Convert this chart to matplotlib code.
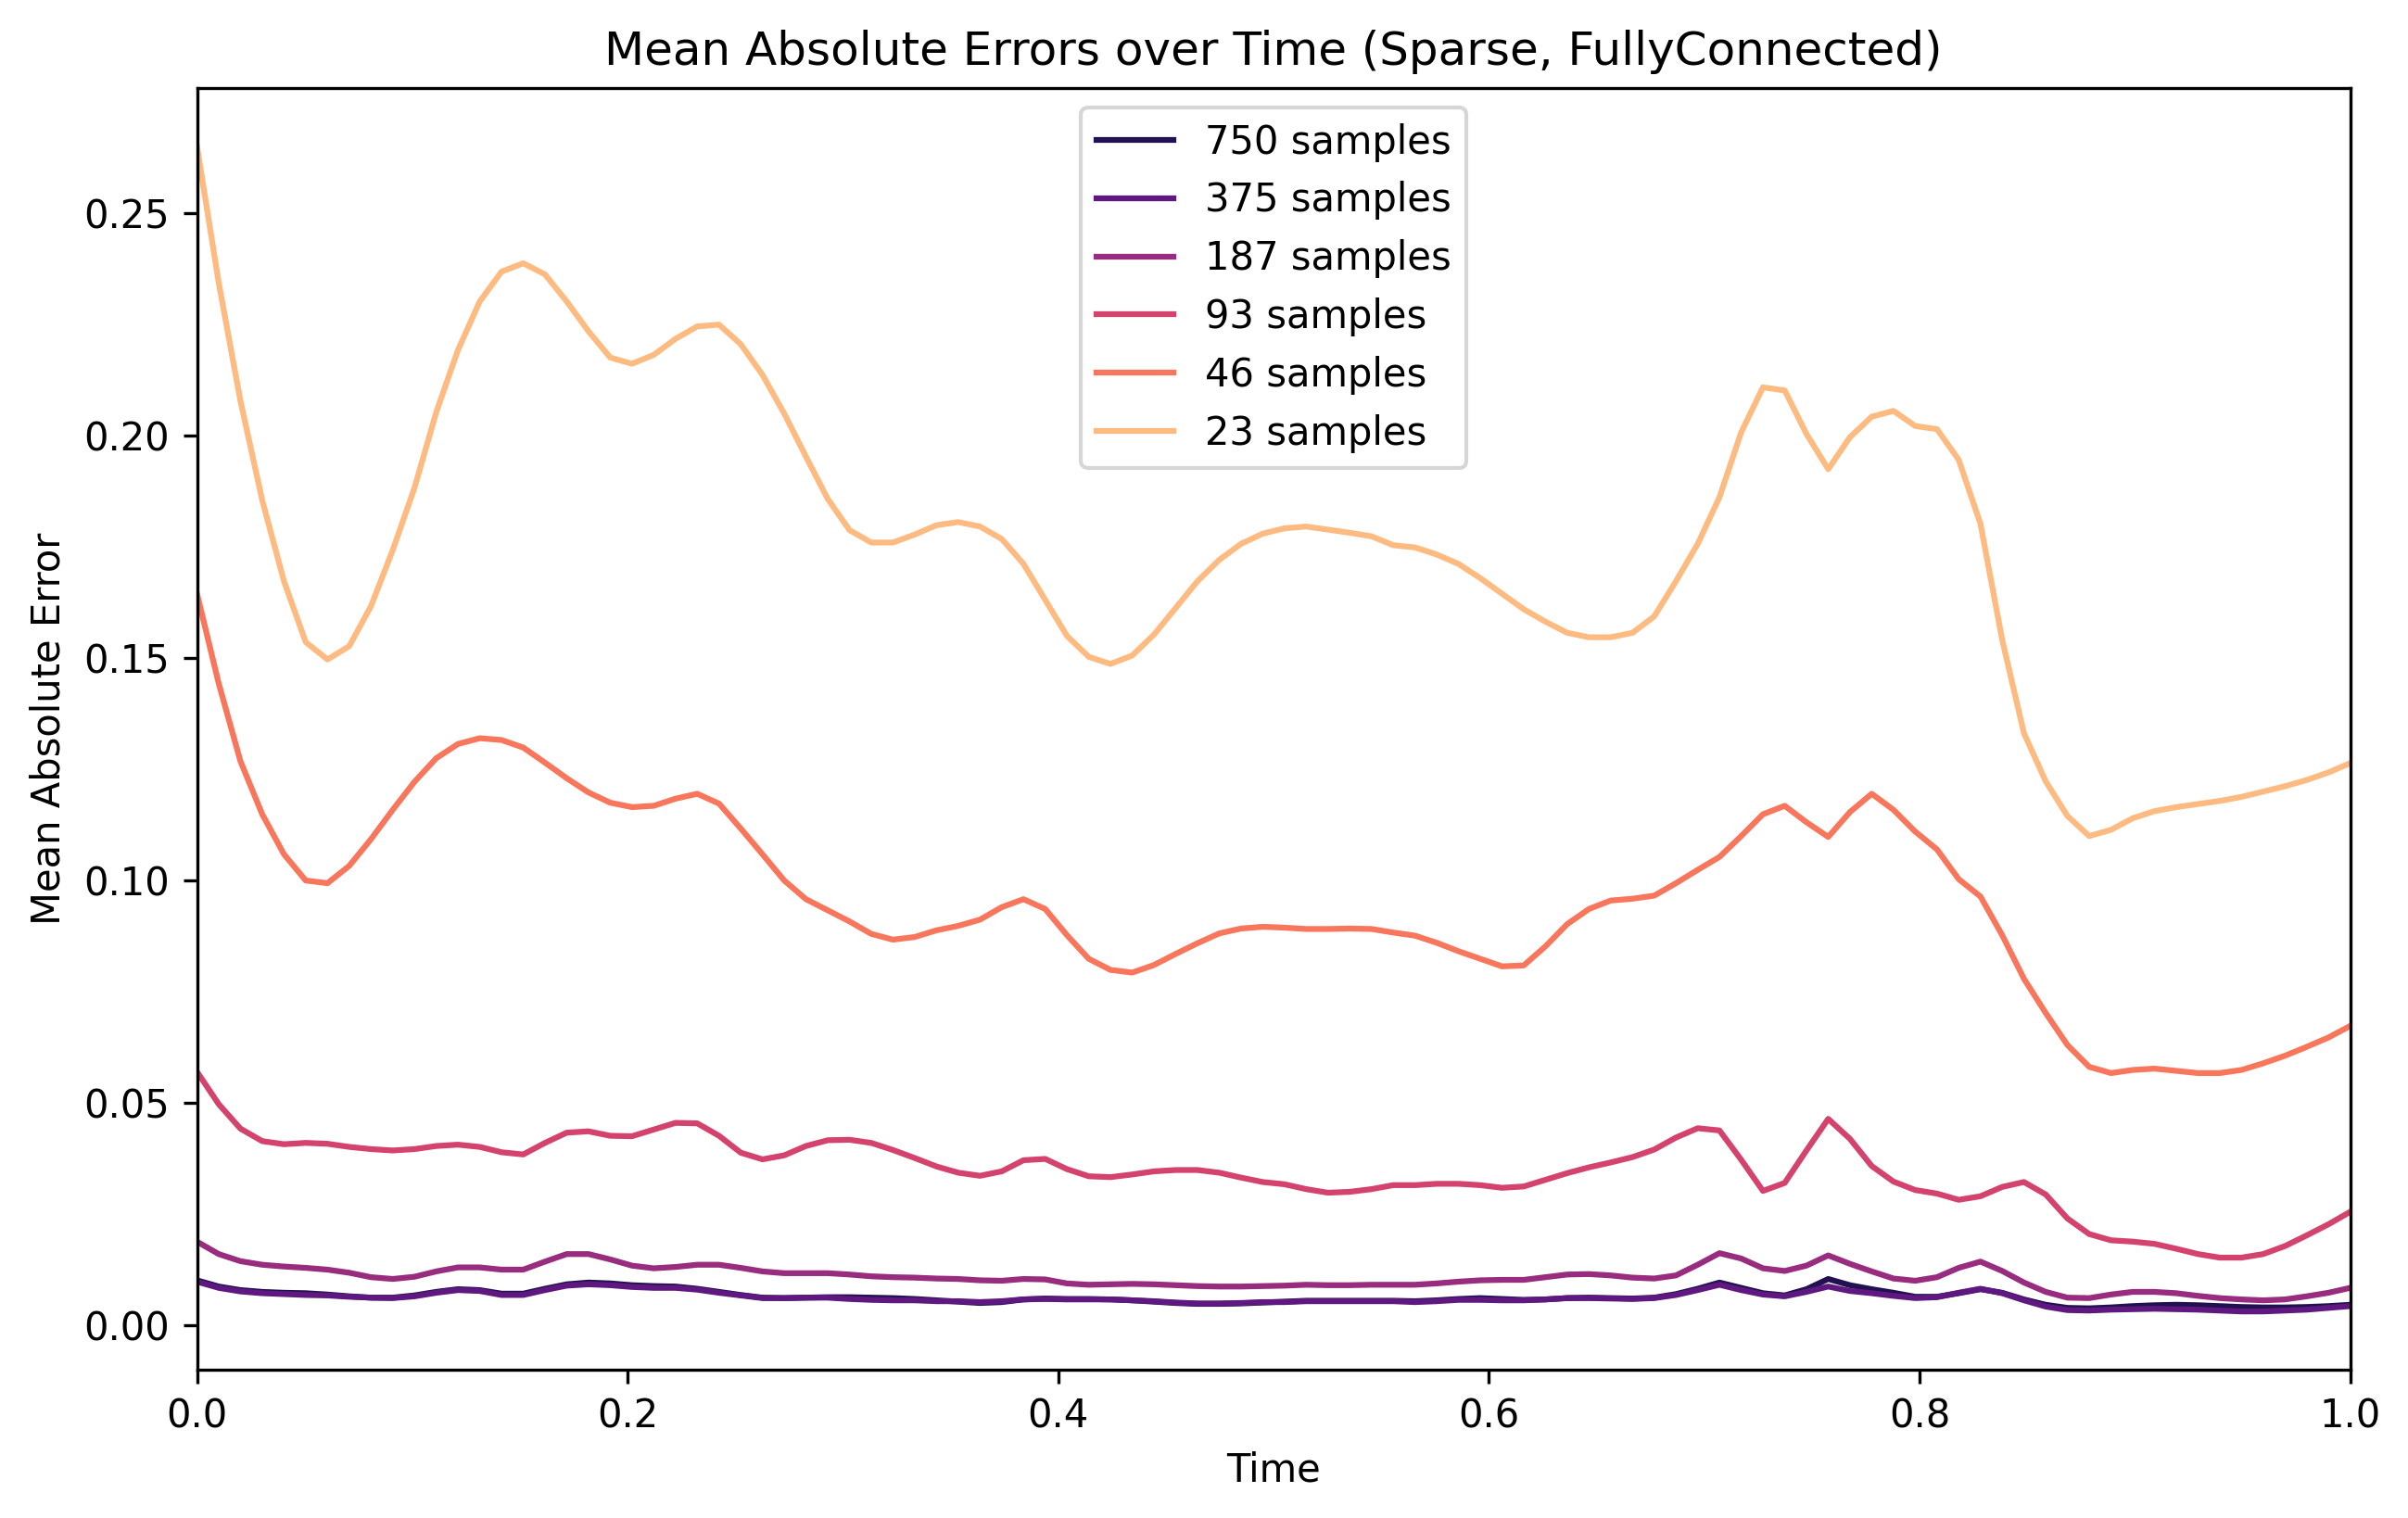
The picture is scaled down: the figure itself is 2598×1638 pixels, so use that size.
import numpy as np
import matplotlib
matplotlib.use("Agg")
import matplotlib.pyplot as plt

time = np.linspace(0, 1, 100)
labels = ["750 samples", "375 samples", "187 samples", "93 samples", "46 samples", "23 samples"]

mae_750 = [0.0100, 0.0086, 0.0078, 0.0074, 0.0072, 0.0071, 0.0068, 0.0064, 0.0061, 0.0061,
           0.0066, 0.0074, 0.0080, 0.0078, 0.0070, 0.0070, 0.0081, 0.0091, 0.0095, 0.0093,
           0.0089, 0.0087, 0.0086, 0.0081, 0.0074, 0.0067, 0.0061, 0.0060, 0.0061, 0.0062,
           0.0062, 0.0061, 0.0060, 0.0058, 0.0055, 0.0052, 0.0049, 0.0051, 0.0057, 0.0059,
           0.0058, 0.0058, 0.0057, 0.0055, 0.0052, 0.0049, 0.0047, 0.0047, 0.0048, 0.0050,
           0.0052, 0.0054, 0.0054, 0.0054, 0.0054, 0.0054, 0.0053, 0.0055, 0.0058, 0.0060,
           0.0058, 0.0056, 0.0057, 0.0060, 0.0061, 0.0060, 0.0059, 0.0061, 0.0069, 0.0081,
           0.0095, 0.0083, 0.0071, 0.0066, 0.0080, 0.0103, 0.0089, 0.0080, 0.0072, 0.0063,
           0.0063, 0.0071, 0.0080, 0.0072, 0.0057, 0.0045, 0.0038, 0.0037, 0.0039, 0.0042,
           0.0044, 0.0045, 0.0044, 0.0042, 0.0040, 0.0039, 0.0039, 0.0040, 0.0042, 0.0045]

mae_375 = [0.0097, 0.0083, 0.0075, 0.0071, 0.0069, 0.0067, 0.0066, 0.0063, 0.0061, 0.0060,
           0.0064, 0.0072, 0.0078, 0.0076, 0.0067, 0.0067, 0.0078, 0.0088, 0.0091, 0.0089,
           0.0085, 0.0083, 0.0083, 0.0079, 0.0072, 0.0066, 0.0060, 0.0060, 0.0061, 0.0061,
           0.0058, 0.0056, 0.0055, 0.0055, 0.0053, 0.0053, 0.0051, 0.0053, 0.0057, 0.0058,
           0.0057, 0.0057, 0.0057, 0.0055, 0.0053, 0.0050, 0.0048, 0.0048, 0.0049, 0.0051,
           0.0051, 0.0053, 0.0053, 0.0053, 0.0053, 0.0053, 0.0051, 0.0053, 0.0056, 0.0056,
           0.0055, 0.0055, 0.0057, 0.0060, 0.0060, 0.0059, 0.0058, 0.0060, 0.0067, 0.0078,
           0.0090, 0.0078, 0.0068, 0.0064, 0.0074, 0.0086, 0.0076, 0.0071, 0.0065, 0.0060,
           0.0062, 0.0072, 0.0081, 0.0071, 0.0055, 0.0041, 0.0033, 0.0032, 0.0034, 0.0035,
           0.0036, 0.0035, 0.0034, 0.0032, 0.0030, 0.0030, 0.0032, 0.0034, 0.0038, 0.0042]

mae_187 = [0.0187, 0.0159, 0.0143, 0.0135, 0.0131, 0.0128, 0.0124, 0.0117, 0.0107, 0.0103,
           0.0108, 0.0120, 0.0129, 0.0129, 0.0124, 0.0124, 0.0142, 0.0159, 0.0159, 0.0147,
           0.0133, 0.0127, 0.0130, 0.0135, 0.0135, 0.0128, 0.0120, 0.0116, 0.0116, 0.0116,
           0.0113, 0.0109, 0.0107, 0.0106, 0.0104, 0.0103, 0.0100, 0.0099, 0.0103, 0.0102,
           0.0093, 0.0090, 0.0091, 0.0092, 0.0091, 0.0089, 0.0087, 0.0086, 0.0086, 0.0087,
           0.0088, 0.0090, 0.0089, 0.0089, 0.0090, 0.0090, 0.0090, 0.0093, 0.0097, 0.0100,
           0.0101, 0.0101, 0.0107, 0.0113, 0.0114, 0.0111, 0.0106, 0.0104, 0.0111, 0.0135,
           0.0161, 0.0149, 0.0127, 0.0121, 0.0133, 0.0156, 0.0137, 0.0120, 0.0104, 0.0099,
           0.0107, 0.0128, 0.0142, 0.0121, 0.0095, 0.0074, 0.0061, 0.0060, 0.0068, 0.0074,
           0.0074, 0.0071, 0.0065, 0.0060, 0.0057, 0.0055, 0.0057, 0.0064, 0.0072, 0.0083]

mae_93 = [0.0569, 0.0496, 0.0441, 0.0413, 0.0406, 0.0409, 0.0407, 0.0400, 0.0395, 0.0392,
          0.0395, 0.0402, 0.0405, 0.0400, 0.0388, 0.0383, 0.0409, 0.0432, 0.0435, 0.0425,
          0.0424, 0.0439, 0.0454, 0.0453, 0.0425, 0.0387, 0.0372, 0.0381, 0.0402, 0.0415,
          0.0416, 0.0409, 0.0393, 0.0375, 0.0356, 0.0342, 0.0335, 0.0345, 0.0370, 0.0373,
          0.0350, 0.0334, 0.0332, 0.0338, 0.0345, 0.0348, 0.0348, 0.0342, 0.0331, 0.0321,
          0.0316, 0.0305, 0.0297, 0.0299, 0.0305, 0.0314, 0.0314, 0.0317, 0.0317, 0.0314,
          0.0308, 0.0311, 0.0326, 0.0341, 0.0354, 0.0365, 0.0377, 0.0394, 0.0421, 0.0442,
          0.0437, 0.0371, 0.0301, 0.0319, 0.0392, 0.0463, 0.0418, 0.0357, 0.0322, 0.0303,
          0.0295, 0.0281, 0.0289, 0.0310, 0.0321, 0.0293, 0.0239, 0.0204, 0.0190, 0.0187,
          0.0182, 0.0171, 0.0159, 0.0151, 0.0151, 0.0159, 0.0177, 0.0201, 0.0226, 0.0254]

mae_46 = [0.1644, 0.1442, 0.1267, 0.1148, 0.1058, 0.0999, 0.0993, 0.1032, 0.1092, 0.1158,
          0.1221, 0.1274, 0.1306, 0.1319, 0.1315, 0.1298, 0.1264, 0.1229, 0.1197, 0.1174,
          0.1164, 0.1167, 0.1183, 0.1194, 0.1172, 0.1116, 0.1058, 0.0999, 0.0957, 0.0932,
          0.0907, 0.0879, 0.0866, 0.0872, 0.0887, 0.0897, 0.0911, 0.0939, 0.0957, 0.0935,
          0.0876, 0.0823, 0.0798, 0.0792, 0.0809, 0.0834, 0.0858, 0.0880, 0.0891, 0.0895,
          0.0893, 0.0890, 0.0890, 0.0891, 0.0890, 0.0882, 0.0875, 0.0859, 0.0840, 0.0823,
          0.0806, 0.0808, 0.0851, 0.0901, 0.0935, 0.0954, 0.0958, 0.0965, 0.0993, 0.1023,
          0.1052, 0.1099, 0.1148, 0.1167, 0.1130, 0.1097, 0.1153, 0.1194, 0.1158, 0.1109,
          0.1069, 0.1002, 0.0963, 0.0876, 0.0778, 0.0701, 0.0629, 0.0580, 0.0566, 0.0573,
          0.0576, 0.0571, 0.0566, 0.0566, 0.0573, 0.0588, 0.0605, 0.0625, 0.0646, 0.0672]

mae_23 = [0.2650, 0.2343, 0.2077, 0.1854, 0.1672, 0.1535, 0.1496, 0.1526, 0.1616, 0.1742,
          0.1882, 0.2052, 0.2192, 0.2301, 0.2368, 0.2387, 0.2362, 0.2301, 0.2234, 0.2175,
          0.2161, 0.2181, 0.2217, 0.2245, 0.2249, 0.2205, 0.2136, 0.2049, 0.1952, 0.1857,
          0.1787, 0.1759, 0.1759, 0.1777, 0.1798, 0.1805, 0.1795, 0.1767, 0.1711, 0.1630,
          0.1549, 0.1502, 0.1486, 0.1505, 0.1552, 0.1612, 0.1672, 0.1720, 0.1756, 0.1779,
          0.1791, 0.1795, 0.1788, 0.1781, 0.1773, 0.1753, 0.1748, 0.1732, 0.1711, 0.1679,
          0.1644, 0.1609, 0.1581, 0.1556, 0.1546, 0.1546, 0.1556, 0.1593, 0.1672, 0.1756,
          0.1861, 0.2007, 0.2108, 0.2101, 0.2003, 0.1924, 0.1996, 0.2042, 0.2055, 0.2021,
          0.2014, 0.1945, 0.1801, 0.1540, 0.1330, 0.1222, 0.1144, 0.1099, 0.1113, 0.1139,
          0.1155, 0.1164, 0.1171, 0.1178, 0.1187, 0.1199, 0.1211, 0.1225, 0.1242, 0.1263]

series = [mae_750, mae_375, mae_187, mae_93, mae_46, mae_23]
colors = plt.cm.magma(np.linspace(0, 1, len(series) + 2)[1:-1])

dpi = 300
fig, ax = plt.subplots(figsize=(2598 / dpi, 1638 / dpi), dpi=dpi)
for vals, lab, col in zip(series, labels, colors):
    ax.plot(time, vals, label=lab, color=col)

ax.set_xlim(0, 1)
ax.set_title("Mean Absolute Errors over Time (Sparse, FullyConnected)")
ax.set_xlabel("Time")
ax.set_ylabel("Mean Absolute Error")
ax.legend(loc="upper center")
fig.subplots_adjust(left=0.0818, right=0.976, top=0.942, bottom=0.0977)
fig.savefig("out.png", dpi=dpi)
